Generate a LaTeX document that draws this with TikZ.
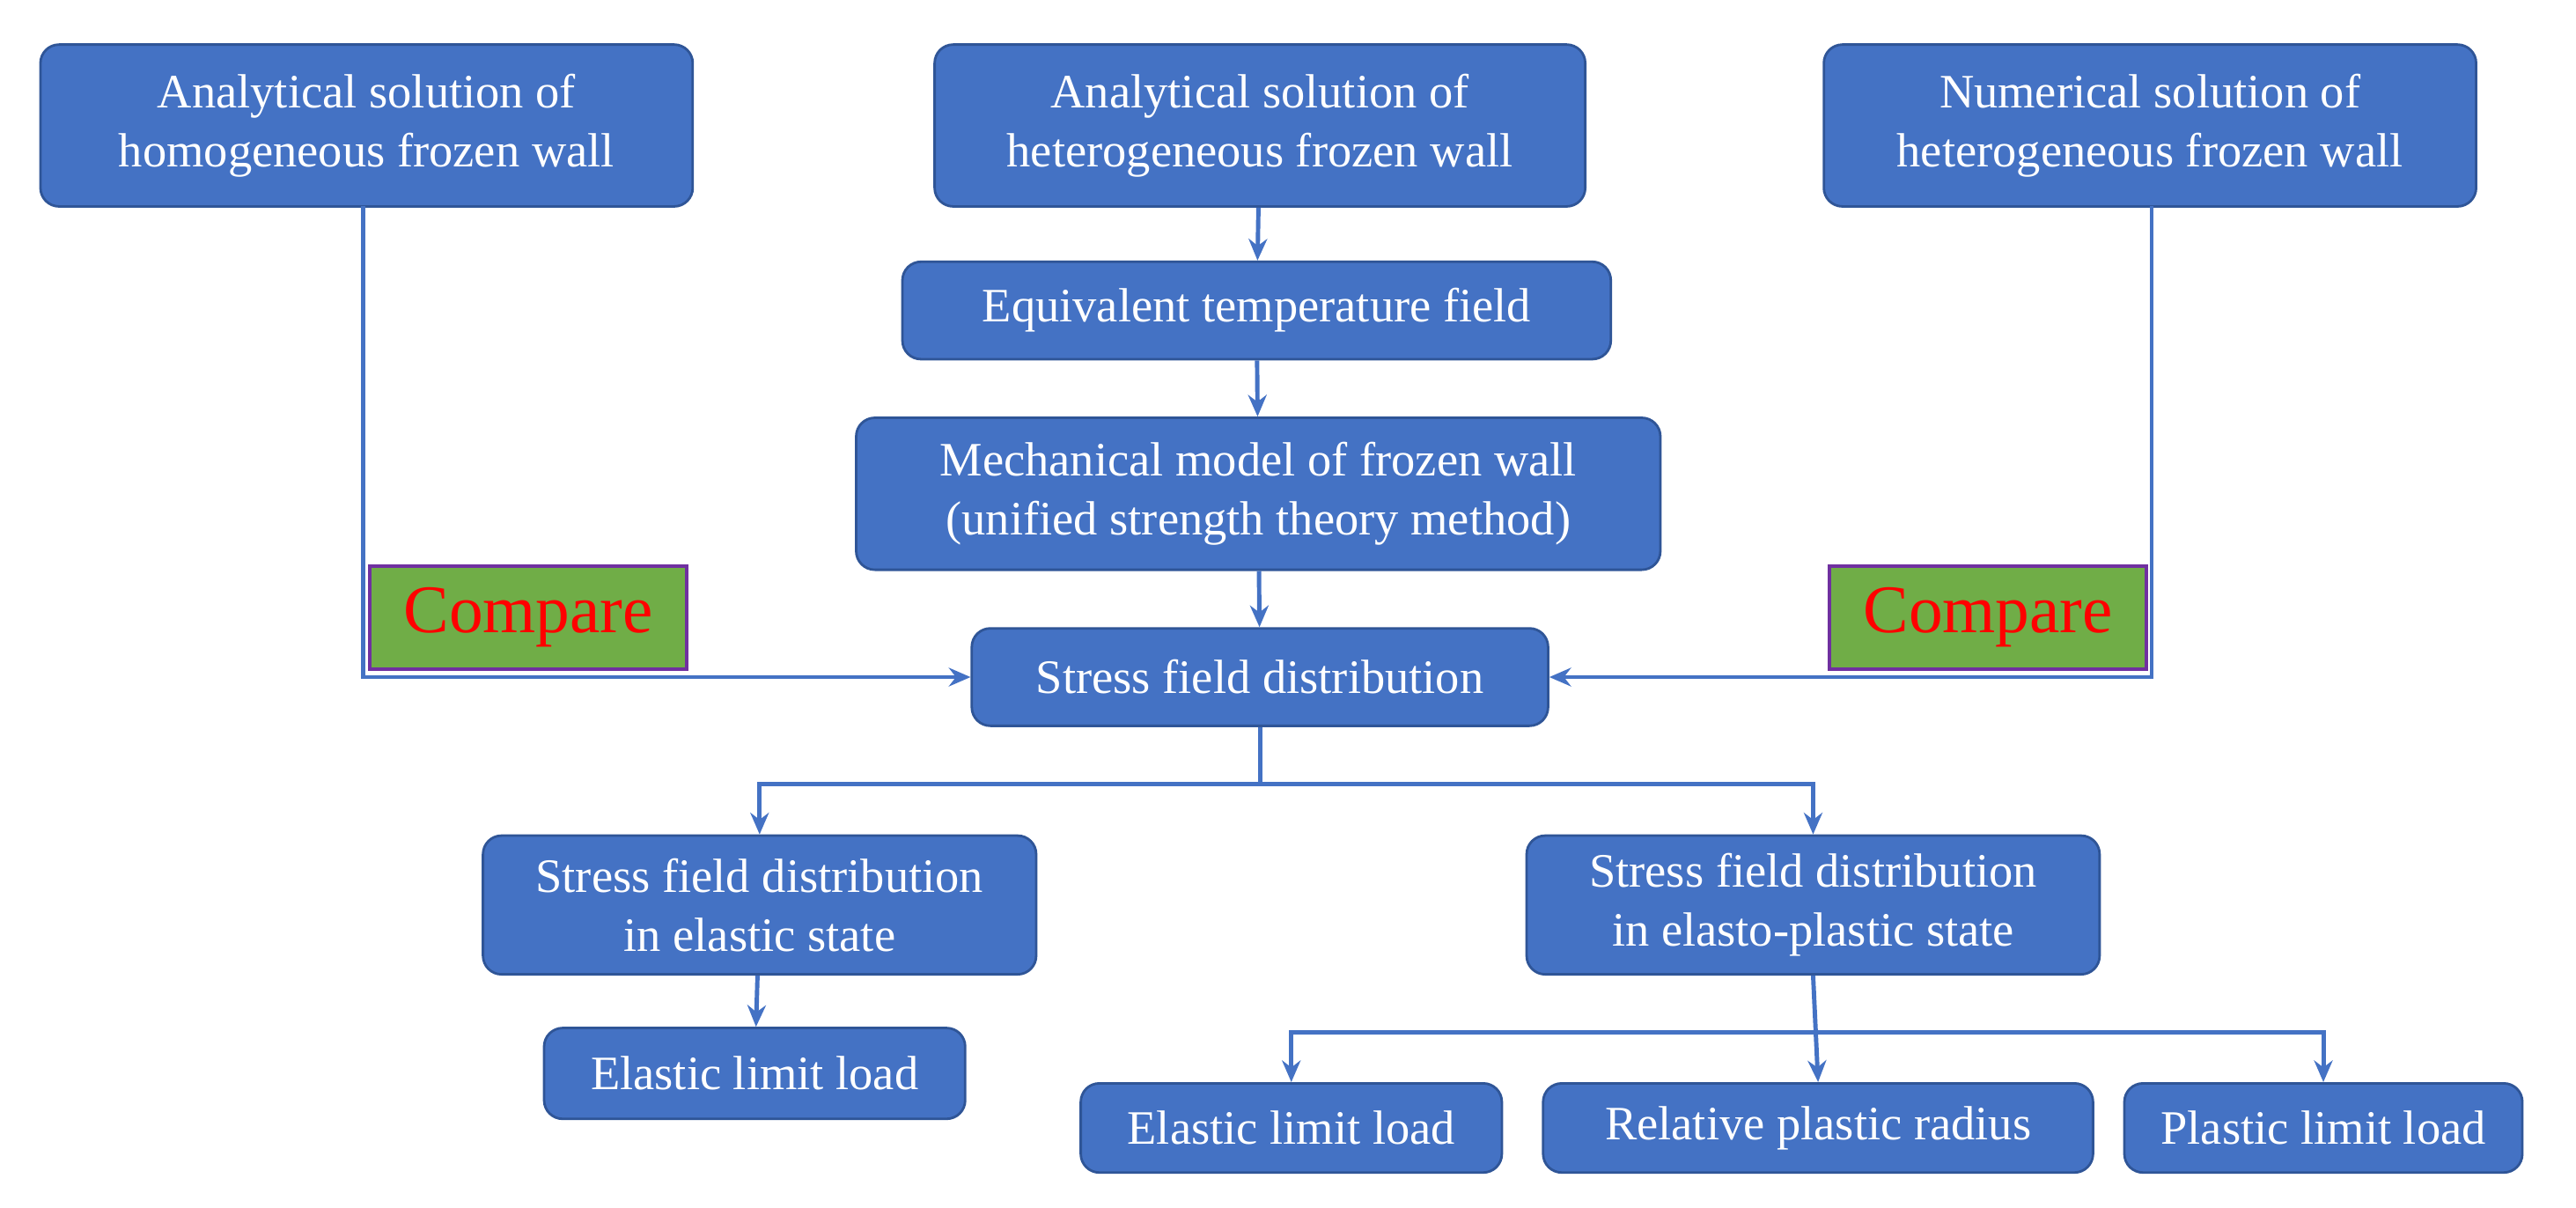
\documentclass[tikz,border=0pt]{standalone}
\usepackage{fontspec}
\setmainfont{Liberation Serif}
\usetikzlibrary{arrows.meta}
\definecolor{bfill}{HTML}{4472C4}
\definecolor{bdraw}{HTML}{2F5597}
\definecolor{cgreen}{HTML}{70AD47}
\definecolor{cpurp}{HTML}{7030A0}
\begin{document}
\begin{tikzpicture}[x=0.018756cm,y=-0.018756cm,
 sz/.style 2 args={minimum width=#1*0.018756cm,minimum height=#2*0.018756cm},
 box/.style={draw=bdraw,fill=bfill,rounded corners=6pt,text=white,align=center,inner sep=0pt,line width=0.8pt,font=\fontsize{15.5}{19}\selectfont},
 cmp/.style={draw=cpurp,fill=cgreen,text=red,line width=1.2pt,inner sep=0pt,font=\fontsize{22}{24}\selectfont},
 ar/.style={draw=bfill,line width=1.4pt,-{Stealth[length=7pt,width=6pt]}},
 ln/.style={draw=bfill,line width=1.4pt}]
\useasboundingbox (0,0) rectangle (1560,731);
\node[box,sz={395}{98}] (a1) at (222,76) {Analytical solution of\\homogeneous frozen wall};
\node[box,sz={394}{98}] (a2) at (763,76) {Analytical solution of\\heterogeneous frozen wall};
\node[box,sz={395}{98}] (a3) at (1302,76) {Numerical solution of\\heterogeneous frozen wall};
\node[box,sz={429}{59}] (eq) at (761,188) {Equivalent temperature field};
\node[box,sz={487}{92}] (me) at (762,299) {Mechanical model of frozen wall\\(unified strength theory method)};
\node[box,sz={349}{59}] (sf) at (763,410) {Stress field distribution};
\node[cmp,sz={192}{62}] (c1) at (320,374) {Compare};
\node[cmp,sz={192}{62}] (c2) at (1204,374) {Compare};
\node[box,sz={335}{84}] (el) at (460,548) {Stress field distribution\\in elastic state};
\node[box,sz={347}{84}] (ep) at (1098,548) {Stress field distribution\\in elasto-plastic state};
\node[box,sz={255}{55}] (l1) at (457,650) {Elastic limit load};
\node[box,sz={255}{54}] (l2) at (782,683) {Elastic limit load};
\node[box,sz={333}{54}] (l3) at (1101,683) {Relative plastic radius};
\node[box,sz={241}{54}] (l4) at (1407,683) {Plastic limit load};
\draw[ar] (a2) -- (eq);
\draw[ar] (eq) -- (me);
\draw[ar] (me) -- (sf);
\draw[ar] (220,125) |- (sf.west);
\draw[ar] (1303,125) |- (sf.east);
\draw[ln] (sf.south) -- (763,475);
\draw[ar] (763,475) -| (el.north);
\draw[ar] (763,475) -| (ep.north);
\draw[ar] (el) -- (l1);
\draw[ar] (ep.south) -- (l3.north);
\draw[ar] (1100,625) -| (l2.north);
\draw[ar] (1100,625) -| (l4.north);
\end{tikzpicture}
\end{document}
